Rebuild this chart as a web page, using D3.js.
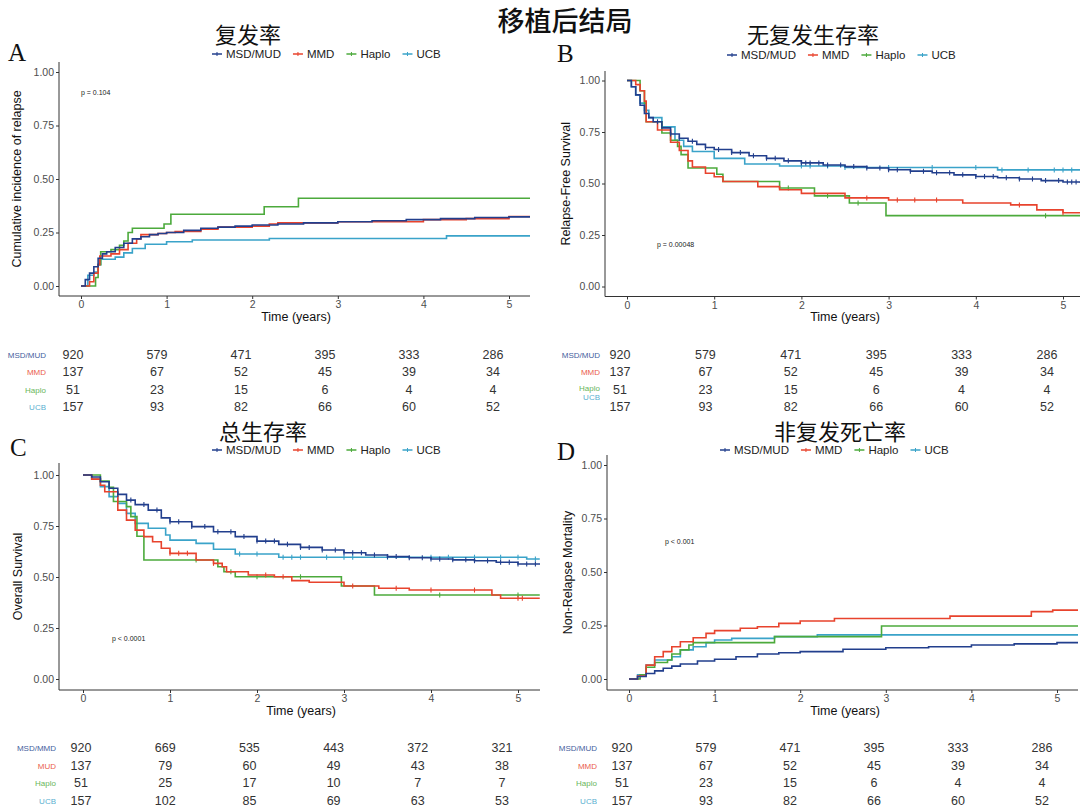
<!DOCTYPE html>
<html><head><meta charset="utf-8">
<script src="https://cdn.jsdelivr.net/npm/d3@7"></script>
<style>body{margin:0;background:#fff}svg{display:block}</style>
</head><body><div id="chart"></div>
<script>
// ---------- DATA ----------
const groups = ["MSD/MUD", "MMD", "Haplo", "UCB"];
const mainTitle = "移植后结局";
const panelTitles = ["复发率", "无复发生存率", "总生存率", "非复发死亡率"];
const panelLetters = ["A", "B", "C", "D"];
const yLabels = ["Cumulative incidence of relapse", "Relapse-Free Survival", "Overall Survival", "Non-Relapse Mortality"];
const xLabel = "Time (years)";
const pValues = ["p = 0.104", "p = 0.00048", "p < 0.0001", "p < 0.001"];
const xTicks = [0, 1, 2, 3, 4, 5];
const yTicks = [0, 0.25, 0.5, 0.75, 1];
const riskTimes = [0, 1, 2, 3, 4, 5];

// A: cumulative incidence of relapse
const relapseMSD = [[0,0],[0.05,0.03],[0.1,0.06],[0.15,0.09],[0.2,0.13],[0.25,0.15],[0.3,0.16],[0.4,0.18],[0.5,0.2],[0.6,0.22],[0.7,0.23],[0.8,0.24],[0.9,0.245],[1.0,0.25],[1.2,0.26],[1.4,0.27],[1.6,0.275],[1.8,0.28],[2.0,0.285],[2.3,0.29],[2.6,0.295],[3.0,0.3],[3.4,0.305],[3.8,0.31],[4.2,0.315],[4.6,0.32],[5.0,0.323],[5.25,0.325]];
const relapseMMD = [[0,0],[0.1,0.02],[0.15,0.06],[0.2,0.1],[0.22,0.14],[0.35,0.15],[0.45,0.17],[0.55,0.2],[0.65,0.22],[0.7,0.24],[0.9,0.245],[1.0,0.25],[1.1,0.255],[1.4,0.265],[1.6,0.275],[2.0,0.28],[2.2,0.29],[2.3,0.295],[3.0,0.3],[4.0,0.31],[4.5,0.315],[5.0,0.325],[5.25,0.325]];
const relapseHaplo = [[0,0],[0.15,0],[0.17,0.04],[0.2,0.1],[0.23,0.16],[0.35,0.17],[0.45,0.19],[0.5,0.21],[0.55,0.25],[0.6,0.27],[0.97,0.29],[1.05,0.335],[2.14,0.37],[2.54,0.41],[5.25,0.41]];
const relapseUCB = [[0,0],[0.08,0.05],[0.15,0.065],[0.2,0.1],[0.23,0.125],[0.4,0.135],[0.5,0.155],[0.6,0.175],[0.75,0.195],[1.0,0.207],[1.3,0.215],[2.2,0.222],[4.27,0.234],[5.25,0.234]];

// B: relapse-free survival
const rfsMSD = [[0,1],[0.05,0.97],[0.1,0.93],[0.15,0.88],[0.2,0.84],[0.25,0.82],[0.3,0.8],[0.4,0.77],[0.5,0.74],[0.6,0.72],[0.7,0.705],[0.8,0.69],[0.9,0.675],[1.0,0.665],[1.2,0.65],[1.4,0.635],[1.6,0.622],[1.8,0.61],[2.0,0.6],[2.25,0.59],[2.5,0.582],[2.75,0.575],[3.0,0.567],[3.25,0.56],[3.5,0.552],[3.75,0.542],[4.0,0.534],[4.25,0.528],[4.5,0.522],[4.75,0.514],[5.0,0.507],[5.2,0.502]];
const rfsMMD = [[0,1],[0.1,0.98],[0.15,0.95],[0.2,0.9],[0.22,0.8],[0.35,0.76],[0.5,0.7],[0.6,0.66],[0.7,0.61],[0.75,0.58],[0.9,0.55],[1.0,0.533],[1.1,0.51],[1.5,0.485],[1.75,0.47],[2.0,0.452],[2.5,0.43],[3.0,0.42],[3.85,0.405],[4.4,0.396],[4.7,0.372],[5.0,0.358],[5.2,0.355]];
const rfsHaplo = [[0,1],[0.12,1],[0.15,0.95],[0.2,0.89],[0.22,0.8],[0.4,0.745],[0.5,0.71],[0.58,0.68],[0.62,0.64],[0.7,0.575],[1.03,0.545],[1.1,0.51],[1.75,0.478],[2.15,0.44],[2.55,0.405],[2.97,0.344],[5.2,0.344]];
const rfsUCB = [[0,1],[0.05,0.97],[0.1,0.93],[0.15,0.89],[0.2,0.855],[0.25,0.82],[0.4,0.775],[0.55,0.71],[0.65,0.68],[0.75,0.655],[1.0,0.622],[1.35,0.595],[1.75,0.585],[2.5,0.578],[4.25,0.566],[5.2,0.566]];
const rfsCensorMSD = [0.35,0.5,0.6,0.75,0.9,1.05,1.2,1.3,1.45,1.6,1.7,1.85,2.0,2.05,2.1,2.2,2.3,2.45,2.6,2.75,2.9,3.0,3.1,3.25,3.4,3.55,3.7,3.85,4.0,4.1,4.2,4.35,4.5,4.65,4.8,4.95,5.05,5.1,5.15];
const rfsCensorMMD = [2.75,3.1,3.3,3.55,4.5,5.0];
const rfsCensorHaplo = [1.85,2.3,2.65,4.8];
const rfsCensorUCB = [2.0,2.1,2.3,2.5,3.0,3.5,4.0,4.3,4.6,4.9,5.0,5.1];

// C: overall survival
const osMSD = [[0,1],[0.1,0.99],[0.2,0.967],[0.3,0.935],[0.4,0.905],[0.5,0.877],[0.6,0.855],[0.75,0.828],[0.9,0.79],[1.0,0.771],[1.25,0.747],[1.5,0.722],[1.75,0.698],[2.0,0.676],[2.25,0.66],[2.5,0.645],[2.75,0.632],[3.0,0.619],[3.25,0.608],[3.5,0.6],[3.75,0.594],[4.0,0.588],[4.25,0.584],[4.5,0.58],[4.75,0.572],[5.0,0.564],[5.25,0.56]];
const osMMD = [[0,1],[0.1,0.98],[0.2,0.95],[0.25,0.918],[0.4,0.828],[0.5,0.779],[0.6,0.73],[0.7,0.698],[0.8,0.673],[0.9,0.641],[1.0,0.616],[1.3,0.583],[1.5,0.567],[1.6,0.55],[1.65,0.526],[1.9,0.51],[2.2,0.501],[2.4,0.482],[2.6,0.474],[3.0,0.456],[3.4,0.445],[3.75,0.436],[4.7,0.412],[4.8,0.396],[5.25,0.396]];
const osHaplo = [[0,1],[0.15,1],[0.2,0.97],[0.3,0.94],[0.35,0.87],[0.5,0.845],[0.55,0.796],[0.62,0.7],[0.7,0.583],[1.55,0.55],[1.62,0.526],[1.75,0.501],[2.97,0.456],[3.35,0.412],[5.25,0.412]];
const osUCB = [[0,1],[0.1,0.98],[0.2,0.943],[0.3,0.894],[0.4,0.861],[0.5,0.812],[0.6,0.763],[0.75,0.739],[0.95,0.706],[1.0,0.681],[1.3,0.665],[1.5,0.636],[1.75,0.613],[2.25,0.597],[5.1,0.588],[5.25,0.588]];
const osCensorMSD = [0.4,0.55,0.7,0.85,1.0,1.1,1.25,1.4,1.55,1.7,1.85,2.0,2.1,2.2,2.35,2.5,2.6,2.75,2.9,3.0,3.1,3.2,3.35,3.5,3.6,3.75,3.9,4.0,4.1,4.25,4.4,4.5,4.65,4.8,4.9,5.0,5.1,5.2];
const osCensorMMD = [1.0,1.1,1.2,1.5,2.1,2.3,3.1,3.6,4.0,4.5,5.0,5.05];
const osCensorHaplo = [1.3,1.7,2.0,2.5,4.1,5.0];
const osCensorUCB = [1.8,2.0,2.3,2.4,2.5,2.8,3.0,3.1,3.5,4.0,4.2,4.5,4.8,5.0,5.2];

// D: non-relapse mortality
const nrmMSD = [[0,0],[0.1,0.012],[0.2,0.026],[0.3,0.038],[0.4,0.05],[0.5,0.06],[0.6,0.07],[0.8,0.084],[1.0,0.092],[1.25,0.104],[1.5,0.117],[1.75,0.123],[2.0,0.128],[2.5,0.139],[3.0,0.146],[3.5,0.151],[4.0,0.159],[4.5,0.164],[5.0,0.17],[5.25,0.172]];
const nrmMMD = [[0,0],[0.1,0.014],[0.2,0.065],[0.3,0.104],[0.4,0.128],[0.5,0.151],[0.6,0.174],[0.75,0.193],[0.9,0.213],[1.0,0.226],[1.3,0.237],[1.5,0.244],[1.75,0.26],[2.0,0.271],[2.4,0.283],[3.75,0.294],[4.7,0.315],[4.95,0.322],[5.25,0.322]];
const nrmHaplo = [[0,0],[0.12,0],[0.13,0.02],[0.2,0.055],[0.3,0.077],[0.45,0.089],[0.5,0.117],[0.6,0.136],[0.7,0.159],[0.75,0.17],[1.7,0.198],[2.95,0.248],[5.25,0.248]];
const nrmUCB = [[0,0],[0.1,0.02],[0.2,0.065],[0.3,0.089],[0.5,0.104],[0.6,0.136],[0.75,0.151],[0.9,0.17],[1.0,0.182],[1.2,0.19],[1.7,0.198],[2.2,0.206],[5.25,0.206]];

// Risk tables (numbers at risk)
const riskLabelsA = ["MSD/MUD", "MMD", "Haplo", "UCB"];
const riskA_MSD = [920,579,471,395,333,286], riskA_MMD = [137,67,52,45,39,34], riskA_Haplo = [51,23,15,6,4,4], riskA_UCB = [157,93,82,66,60,52];
const riskLabelsB = ["MSD/MUD", "MMD", "Haplo", "UCB"];
const riskB_MSD = [920,579,471,395,333,286], riskB_MMD = [137,67,52,45,39,34], riskB_Haplo = [51,23,15,6,4,4], riskB_UCB = [157,93,82,66,60,52];
const riskLabelsC = ["MSD/MMD", "MUD", "Haplo", "UCB"];
const riskC_MSD = [920,669,535,443,372,321], riskC_MMD = [137,79,60,49,43,38], riskC_Haplo = [51,25,17,10,7,7], riskC_UCB = [157,102,85,69,63,53];
const riskLabelsD = ["MSD/MUD", "MMD", "Haplo", "UCB"];
const riskD_MSD = [920,579,471,395,333,286], riskD_MMD = [137,67,52,45,39,34], riskD_Haplo = [51,23,15,6,4,4], riskD_UCB = [157,93,82,66,60,52];

// ---------- STYLE / LAYOUT ----------
const colors = ["#223f8d", "#e8432d", "#4caa3c", "#3aa3c9"];
const W = 1080, H = 810;
const svg = d3.select("#chart").append("svg").attr("width", W).attr("height", H)
  .style("font-family", "'Liberation Sans', Arial, sans-serif");
svg.append("rect").attr("width", W).attr("height", H).attr("fill", "#fff");

svg.append("text").attr("x", 565).attr("y", 31).attr("text-anchor", "middle")
  .style("font-family", "'Noto Sans CJK SC'").style("font-size", "27px").style("font-weight", 500)
  .attr("fill", "#111").text(mainTitle);

const panels = [
  { curves: [relapseMSD, relapseMMD, relapseHaplo, relapseUCB], censors: null,
    xr: [81, 509], yr: [286, 72], axX: 59, axY: 296, right: 530, top: 62,
    title: [248, 43], legend: [212, 54], letter: [8, 61], p: [81, 95],
    yLab: 17, xLab: [296, 321], riskLabels: riskLabelsA, risk: [riskA_MSD, riskA_MMD, riskA_Haplo, riskA_UCB],
    riskX: [73, 493], riskLabX: 46, riskY: [355, 372, 390, 407], riskLabY: [355, 372, 390, 407] },
  { curves: [rfsMSD, rfsMMD, rfsHaplo, rfsUCB], censors: [rfsCensorMSD, rfsCensorMMD, rfsCensorHaplo, rfsCensorUCB],
    xr: [627, 1063], yr: [286.5, 80.5], axX: 605, axY: 296.5, right: 1080, top: 71,
    title: [813, 43], legend: [727, 55], letter: [557, 62], p: [657, 247],
    yLab: 566, xLab: [845, 321], riskLabels: riskLabelsB, risk: [riskB_MSD, riskB_MMD, riskB_Haplo, riskB_UCB],
    riskX: [620, 1047], riskLabX: 600, riskY: [355, 372, 390, 407], riskLabY: [355, 372, 388, 397] },
  { curves: [osMSD, osMMD, osHaplo, osUCB], censors: [osCensorMSD, osCensorMMD, osCensorHaplo, osCensorUCB],
    xr: [83, 518], yr: [679, 475], axX: 59, axY: 690, right: 540, top: 463,
    title: [263, 440], legend: [212, 450], letter: [10, 456], p: [112, 641],
    yLab: 18, xLab: [301, 715], riskLabels: riskLabelsC, risk: [riskC_MSD, riskC_MMD, riskC_Haplo, riskC_UCB],
    riskX: [81, 502], riskLabX: 56, riskY: [748, 766, 783, 801], riskLabY: [748, 766, 783, 801] },
  { curves: [nrmMSD, nrmMMD, nrmHaplo, nrmUCB], censors: null,
    xr: [629, 1057], yr: [679, 465], axX: 607, axY: 690, right: 1078, top: 455,
    title: [840, 440], legend: [720, 450], letter: [557, 460], p: [665, 544],
    yLab: 568, xLab: [845, 715], riskLabels: riskLabelsD, risk: [riskD_MSD, riskD_MMD, riskD_Haplo, riskD_UCB],
    riskX: [622, 1042], riskLabX: 597, riskY: [748, 766, 783, 801], riskLabY: [748, 766, 783, 801] }
];

function stepValue(curve, t) {
  let v = curve[0][1];
  for (const d of curve) { if (d[0] <= t) v = d[1]; else break; }
  return v;
}

panels.forEach((P, pi) => {
  const g = svg.append("g");
  const x = d3.scaleLinear().domain([0, 5]).range(P.xr);
  const y = d3.scaleLinear().domain([0, 1]).range(P.yr);

  // axes
  const ya = g.append("g").attr("transform", `translate(${P.axX},0)`)
    .call(d3.axisLeft(y).tickValues(yTicks).tickFormat(d3.format(".2f")).tickSize(3).tickPadding(2));
  ya.select(".domain").remove();
  const xa = g.append("g").attr("transform", `translate(0,${P.axY})`)
    .call(d3.axisBottom(x).tickValues(xTicks).tickFormat(d3.format("d")).tickSize(3).tickPadding(2));
  xa.select(".domain").remove();
  [ya, xa].forEach(a => {
    a.selectAll("text").attr("fill", "#4d4d4d").style("font-size", "10.5px").style("font-family", "'Liberation Sans', Arial, sans-serif");
    a.selectAll("line").attr("stroke", "#333");
  });
  g.append("line").attr("x1", P.axX).attr("x2", P.axX).attr("y1", P.top).attr("y2", P.axY).attr("stroke", "#333").attr("stroke-width", 1);
  g.append("line").attr("x1", P.axX).attr("x2", P.right).attr("y1", P.axY).attr("y2", P.axY).attr("stroke", "#333").attr("stroke-width", 1);

  // axis titles
  g.append("text").attr("transform", `translate(${P.yLab},${(P.top + P.axY) / 2}) rotate(-90)`)
    .attr("text-anchor", "middle").attr("dy", "0.35em").style("font-size", "12.5px").attr("fill", "#111").text(yLabels[pi]);
  g.append("text").attr("x", P.xLab[0]).attr("y", P.xLab[1]).attr("text-anchor", "middle")
    .style("font-size", "12.5px").attr("fill", "#111").text(xLabel);

  // curves
  const clip = "clip" + pi;
  g.append("clipPath").attr("id", clip).append("rect")
    .attr("x", P.axX).attr("y", P.top - 5).attr("width", Math.min(P.right, W) - P.axX).attr("height", P.axY - P.top + 5);
  const line = d3.line().x(d => x(d[0])).y(d => y(d[1])).curve(d3.curveStepAfter);
  const order = [3, 2, 1, 0];
  const cg = g.append("g").attr("clip-path", `url(#${clip})`);
  order.forEach(i => {
    cg.append("path").datum(P.curves[i]).attr("d", line).attr("fill", "none")
      .attr("stroke", colors[i]).attr("stroke-width", 1.6);
    if (P.censors) {
      cg.selectAll(null).data(P.censors[i]).enter().append("line")
        .attr("x1", t => x(t)).attr("x2", t => x(t))
        .attr("y1", t => y(stepValue(P.curves[i], t)) - 2.5)
        .attr("y2", t => y(stepValue(P.curves[i], t)) + 2.5)
        .attr("stroke", colors[i]).attr("stroke-width", 1.1);
    }
  });

  // p value
  g.append("text").attr("x", P.p[0]).attr("y", P.p[1]).style("font-size", "7px").attr("fill", "#222").text(pValues[pi]);

  // title, letter
  g.append("text").attr("x", P.title[0]).attr("y", P.title[1]).attr("text-anchor", "middle")
    .style("font-family", "'Noto Sans CJK SC'").style("font-size", "22px").attr("fill", "#111").text(panelTitles[pi]);
  g.append("text").attr("x", P.letter[0]).attr("y", P.letter[1])
    .style("font-family", "'Liberation Serif', serif").style("font-size", "25px").attr("fill", "#111").text(panelLetters[pi]);

  // legend
  let lx = P.legend[0];
  groups.forEach((name, i) => {
    const lg = g.append("g").attr("transform", `translate(${lx},${P.legend[1]})`);
    lg.append("line").attr("x1", 0).attr("x2", 10).attr("y1", 0).attr("y2", 0).attr("stroke", colors[i]).attr("stroke-width", 1.5);
    lg.append("line").attr("x1", 5).attr("x2", 5).attr("y1", -2).attr("y2", 2).attr("stroke", colors[i]).attr("stroke-width", 1);
    const t = lg.append("text").attr("x", 14).attr("y", 0).attr("dy", "0.36em").style("font-size", "11.5px").attr("fill", "#222").text(name);
    lx += 14 + t.node().getComputedTextLength() + 12;
  });

  // risk table
  const rx = d3.scaleLinear().domain([0, 5]).range(P.riskX);
  P.risk.forEach((row, i) => {
    g.append("text").attr("x", P.riskLabX).attr("y", P.riskLabY[i]).attr("text-anchor", "end").attr("dy", "0.35em")
      .style("font-size", "8px").attr("fill", colors[i]).attr("opacity", 0.85).text(P.riskLabels[i]);
    g.selectAll(null).data(row).enter().append("text")
      .attr("x", (d, j) => rx(riskTimes[j])).attr("y", P.riskY[i]).attr("dy", "0.35em").attr("text-anchor", "middle")
      .style("font-size", "12.5px").attr("fill", "#333").text(d => d);
  });
});
</script>
</body></html>
